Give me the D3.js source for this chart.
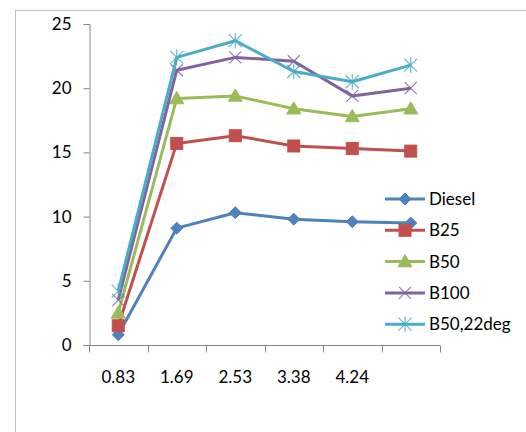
<!DOCTYPE html>
<html>
<head>
<meta charset="utf-8">
<script src="https://cdn.jsdelivr.net/npm/d3@7"></script>
<style>
  html, body { margin: 0; padding: 0; background: #fff; }
  svg { display: block; }
  text { font-family: Lato, "Liberation Sans", sans-serif; fill: #000; }
</style>
</head>
<body>
<svg id="chart" width="526" height="432"></svg>
<script>
// Categories along the x axis (the last point has no label)
const categories = ["0.83", "1.69", "2.53", "3.38", "4.24", ""];

// Series values
const diesel   = [0.8, 9.1, 10.3, 9.8, 9.6, 9.5];
const b25      = [1.5, 15.7, 16.3, 15.5, 15.3, 15.1];
const b50      = [2.5, 19.2, 19.4, 18.4, 17.8, 18.4];
const b100     = [3.5, 21.4, 22.4, 22.1, 19.4, 20.0];
const b50_22   = [4.2, 22.4, 23.7, 21.3, 20.5, 21.8];

const yTicks = [0, 5, 10, 15, 20, 25];

const series = [
  { name: "Diesel",    values: diesel, color: "#4F81BD", marker: "diamond" },
  { name: "B25",       values: b25,    color: "#C0504D", marker: "square" },
  { name: "B50",       values: b50,    color: "#9BBB59", marker: "triangle" },
  { name: "B100",      values: b100,   color: "#8064A2", marker: "cross" },
  { name: "B50,22deg", values: b50_22, color: "#4BACC6", marker: "star" }
];

const svg = d3.select("#chart");

// outer frame
svg.append("rect")
  .attr("x", 15.5).attr("y", 10.5)
  .attr("width", 700).attr("height", 600)
  .attr("fill", "none").attr("stroke", "#BFBFBF").attr("stroke-width", 1);

const plot = { left: 89, right: 440, top: 24, bottom: 345 };

const x = d3.scaleBand()
  .domain(d3.range(categories.length))
  .range([plot.left, plot.right])
  .padding(0);

const y = d3.scaleLinear().domain([0, 25]).range([plot.bottom, plot.top]);

const cx = i => x(i) + x.bandwidth() / 2;

// y axis
const yAxis = d3.axisLeft(y).tickValues(yTicks).tickSize(6).tickPadding(12);
const yg = svg.append("g").attr("transform", `translate(${plot.left + 0.5},0)`).call(yAxis);
yg.selectAll("path, line").attr("stroke", "#868686");
yg.selectAll("text").attr("font-size", 17).style("font-family", "Lato, 'Liberation Sans', sans-serif");

// x axis: labels under category centres, tick marks on category boundaries
const xAxis = d3.axisBottom(x).tickFormat(i => categories[i]).tickSize(0).tickPadding(25);
const xg = svg.append("g").attr("transform", `translate(0,${plot.bottom + 0.5})`).call(xAxis);
xg.select("path.domain").attr("stroke", "#868686").attr("d", `M${plot.left},0H${plot.right}`);
xg.selectAll("text").attr("font-size", 17).style("font-family", "Lato, 'Liberation Sans', sans-serif");
const bounds = d3.range(categories.length + 1).map(i => i < categories.length ? x(i) : x(i - 1) + x.bandwidth());
xg.selectAll("line.bound").data(bounds).enter().append("line")
  .attr("class", "bound")
  .attr("x1", d => Math.round(d) + 0.5).attr("x2", d => Math.round(d) + 0.5)
  .attr("y1", 0).attr("y2", 7)
  .attr("stroke", "#868686");

// marker drawing
function drawMarker(g, type, color, px, py, scale = 1) {
  const s = scale;
  if (type === "diamond") {
    const r = 6 * s;
    g.append("path").attr("d", `M${px},${py - r}L${px + r},${py}L${px},${py + r}L${px - r},${py}Z`)
      .attr("fill", color).attr("stroke", color).attr("stroke-width", 1);
  } else if (type === "square") {
    const r = 6 * s;
    g.append("rect").attr("x", px - r).attr("y", py - r).attr("width", 2 * r).attr("height", 2 * r)
      .attr("fill", color).attr("stroke", color).attr("stroke-width", 1);
  } else if (type === "triangle") {
    const r = 7 * s;
    g.append("path").attr("d", `M${px},${py - r}L${px + r},${py + r * 0.75}L${px - r},${py + r * 0.75}Z`)
      .attr("fill", color).attr("stroke", color).attr("stroke-width", 1);
  } else if (type === "cross") {
    const r = 6 * s;
    g.append("path").attr("d", `M${px - r},${py - r}L${px + r},${py + r}M${px - r},${py + r}L${px + r},${py - r}`)
      .attr("fill", "none").attr("stroke", color).attr("stroke-width", 1.2).attr("opacity", 0.85);
  } else if (type === "star") {
    const r = 6.5 * s;
    g.append("path").attr("d",
      `M${px - r},${py - r}L${px + r},${py + r}M${px - r},${py + r}L${px + r},${py - r}M${px},${py - r * 1.2}L${px},${py + r * 1.2}`)
      .attr("fill", "none").attr("stroke", color).attr("stroke-width", 1.2).attr("opacity", 0.85);
  }
}

const line = d3.line().x((d, i) => cx(i)).y(d => y(d));

series.forEach(s => {
  const g = svg.append("g");
  g.append("path").datum(s.values)
    .attr("d", line)
    .attr("fill", "none")
    .attr("stroke", s.color)
    .attr("stroke-width", 3)
    .attr("stroke-linejoin", "round");
  s.values.forEach((v, i) => drawMarker(g, s.marker, s.color, cx(i), y(v)));
});

// legend
const legend = svg.append("g");
const legX = 385, legY = 199, legStep = 31.3;
series.forEach((s, i) => {
  const ly = legY + i * legStep;
  legend.append("line")
    .attr("x1", legX).attr("x2", legX + 40)
    .attr("y1", ly).attr("y2", ly)
    .attr("stroke", s.color).attr("stroke-width", 3);
  drawMarker(legend, s.marker, s.color, legX + 20, ly);
  legend.append("text")
    .attr("x", legX + 44).attr("y", ly)
    .attr("dy", "0.35em")
    .attr("font-size", 17)
    .text(s.name);
});
</script>
</body>
</html>
